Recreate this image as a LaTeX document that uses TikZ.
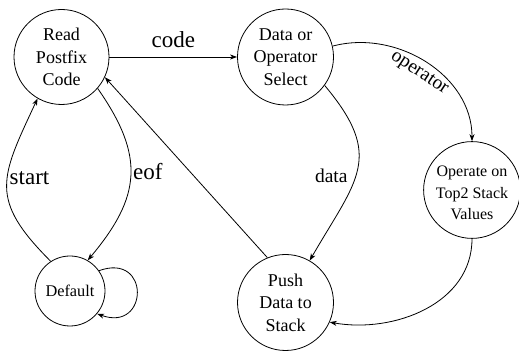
\documentclass[tikz,border=0pt]{standalone}
\usepackage{fontspec}
\setmainfont{Liberation Serif}[Ligatures=TeX]
\newfontfamily\statefont{Liberation Serif}
\usetikzlibrary{arrows.meta}

\begin{document}
\begin{tikzpicture}[x=1pt,y=1pt,
  state/.style={circle, draw, line width=0.8pt, inner sep=0pt, align=center,
                font=\statefont\fontsize{18}{22.5}\selectfont},
  trans/.style={draw, line width=0.8pt, -{Stealth[length=7pt,width=5pt,inset=2pt]}},
  biglbl/.style={inner sep=2pt, font=\statefont\fontsize{23}{27}\selectfont},
  smalllbl/.style={inner sep=2pt, font=\statefont\fontsize{19.5}{23}\selectfont}]
\useasboundingbox (0,0) rectangle (519,352);

% states
\node[state, minimum size=95pt] (read) at (61.5,295) {Read\\Postfix\\Code};
\node[state, minimum size=96pt] (sel) at (285.5,295) {Data or\\Operator\\Select};
\node[state, minimum size=94pt, font=\statefont\fontsize{16}{21.5}\selectfont] (oper) at (472,162)
  {\raisebox{-4pt}[\height][\depth]{\begin{tabular}{@{}c@{}}Operate on\\Top2 Stack\\Values\end{tabular}}};
\node[state, minimum size=96pt] (push) at (285.5,49.5) {Push\\Data to\\Stack};
\node[state, minimum size=70pt, font=\statefont\fontsize{16.3}{20}\selectfont] (dflt) at (70,61) {Default};

% transitions
\path[trans] (read) -- node[biglbl, above=7pt] {code} (sel);
\path[trans] (sel.13) .. controls +(15:66) and +(90:66) .. node[smalllbl, sloped, below=3pt] {operator} (oper.north);
\path[trans] (sel.-36) .. controls +(-50:94) and +(60:94) .. node[smalllbl, pos=0.54, left=6pt] {data} (push.60);
\path[trans] (oper.south) .. controls +(-90:65) and +(-10:65) .. (push.-24);
\path[trans] (push.112) -- (read.-25);
\path[trans] (read.-41) .. controls +(-55:83) and +(50:83) .. node[biglbl, pos=0.47, right] {eof} (dflt.60);
\path[trans] (dflt.123) .. controls +(135:88) and +(-115:88) .. node[biglbl, pos=0.56, right] {start} (read.-120);
\path[trans] (dflt.35) .. controls +(20:55) and +(-20:55) .. (dflt.-40);
\end{tikzpicture}
\end{document}
